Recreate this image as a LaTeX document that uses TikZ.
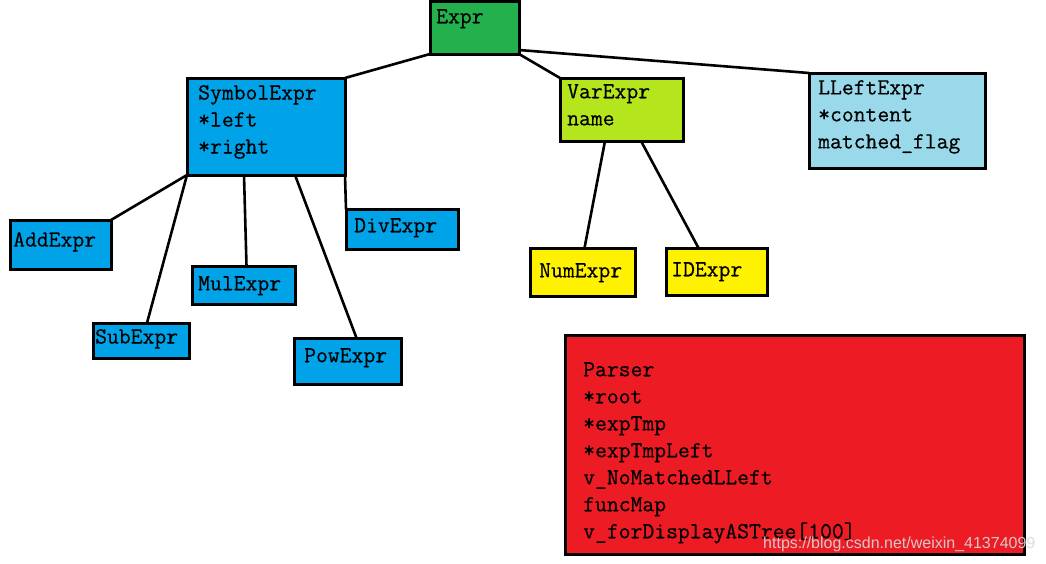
\documentclass[tikz,border=0pt]{standalone}
\usepackage{fontspec}
\setsansfont{Liberation Sans}
\newfontfamily\boxfont{Latin Modern Mono}[FakeBold=0.5]
\definecolor{exprgreen}{HTML}{22B14C}
\definecolor{symblue}{HTML}{00A2E8}
\definecolor{varlime}{HTML}{B5E61D}
\definecolor{leftblue}{HTML}{99D9EA}
\definecolor{leafyellow}{HTML}{FFF200}
\definecolor{parserred}{HTML}{ED1C24}

\begin{document}
\begin{tikzpicture}[x=1pt, y=-1pt,
        box/.style={draw, line width=3pt, anchor=north west, inner sep=0pt, outer sep=0pt},
        tag/.style={anchor=north west, align=left, inner sep=0pt,
                    font=\boxfont\fontsize{23}{27}\selectfont},
        link/.style={line width=2.6pt}]
        \useasboundingbox (0,0) rectangle (1046,563);

        \node[box, fill=exprgreen, minimum width=89, minimum height=53,
              label={[tag, xshift=6pt, yshift=-8pt]north west:Expr}] (expr) at (430,1) {};
        \node[box, fill=symblue, minimum width=158, minimum height=97,
              label={[tag, xshift=11pt, yshift=-7pt]north west:SymbolExpr\\*left\\*right}] (sym) at (187,78) {};
        \node[box, fill=varlime, minimum width=123, minimum height=63,
              label={[tag, xshift=7pt, yshift=-6pt]north west:VarExpr\\name}] (var) at (560,78) {};
        \node[box, fill=leftblue, minimum width=176, minimum height=95,
              label={[tag, xshift=9pt, yshift=-7pt]north west:LLeftExpr\\*content\\matched\_flag}] (lleft) at (809,73) {};

        \node[box, fill=symblue, minimum width=101, minimum height=49,
              label={[tag, xshift=3pt, yshift=-12pt]north west:AddExpr}] (add) at (10,220) {};
        \node[box, fill=symblue, minimum width=96, minimum height=35,
              label={[tag, xshift=2pt, yshift=-6pt]north west:SubExpr}] (sub) at (93,323) {};
        \node[box, fill=symblue, minimum width=103, minimum height=38,
              label={[tag, xshift=6pt, yshift=-10pt]north west:MulExpr}] (mul) at (192,266) {};
        \node[box, fill=symblue, minimum width=112, minimum height=40,
              label={[tag, xshift=8pt, yshift=-9pt]north west:DivExpr}] (div) at (346,209) {};
        \node[box, fill=symblue, minimum width=107, minimum height=46,
              label={[tag, xshift=10pt, yshift=-10pt]north west:PowExpr}] (pow) at (294,338) {};

        \node[box, fill=leafyellow, minimum width=105, minimum height=48,
              label={[tag, xshift=9pt, yshift=-15pt]north west:NumExpr}] (num) at (530,248) {};
        \node[box, fill=leafyellow, minimum width=101, minimum height=47,
              label={[tag, xshift=5pt, yshift=-14pt]north west:IDExpr}] (id) at (666,248) {};

        \node[box, fill=parserred, minimum width=459, minimum height=219,
              label={[tag, xshift=18pt, yshift=-27pt]north west:Parser\\*root\\*expTmp\\*expTmpLeft\\v\_NoMatchedLLeft\\funcMap\\v\_forDisplayASTree[100]}] (parser) at (565,335) {};

        \draw[link] (expr.south west) -- (sym.north east);
        \draw[link] (expr.south east) -- (var.north west);
        \draw[link] ([yshift=4pt]expr.south east) -- (lleft.north west);

        \draw[link] (sym.south west) -- (add.north east);
        \draw[link] (sym.south west) -- ([xshift=6pt]sub.north);
        \draw[link] ([xshift=57pt]sym.south west) -- ([xshift=3pt]mul.north);
        \draw[link] ([xshift=108pt]sym.south west) -- ([xshift=9pt]pow.north);
        \draw[link] (sym.south east) -- (div.north west);

        \draw[link] ([xshift=45pt]var.south west) -- ([xshift=2pt]num.north);
        \draw[link] ([xshift=81pt]var.south west) -- ([xshift=-18pt]id.north);

        \node[anchor=west, inner sep=0pt, text=gray!30, text opacity=0.9,
              font=\sffamily\fontsize{16}{16}\selectfont] (mark) at (763,544) {https://blog.csdn.net/weixin\_41374099};
    \end{tikzpicture}
\end{document}
